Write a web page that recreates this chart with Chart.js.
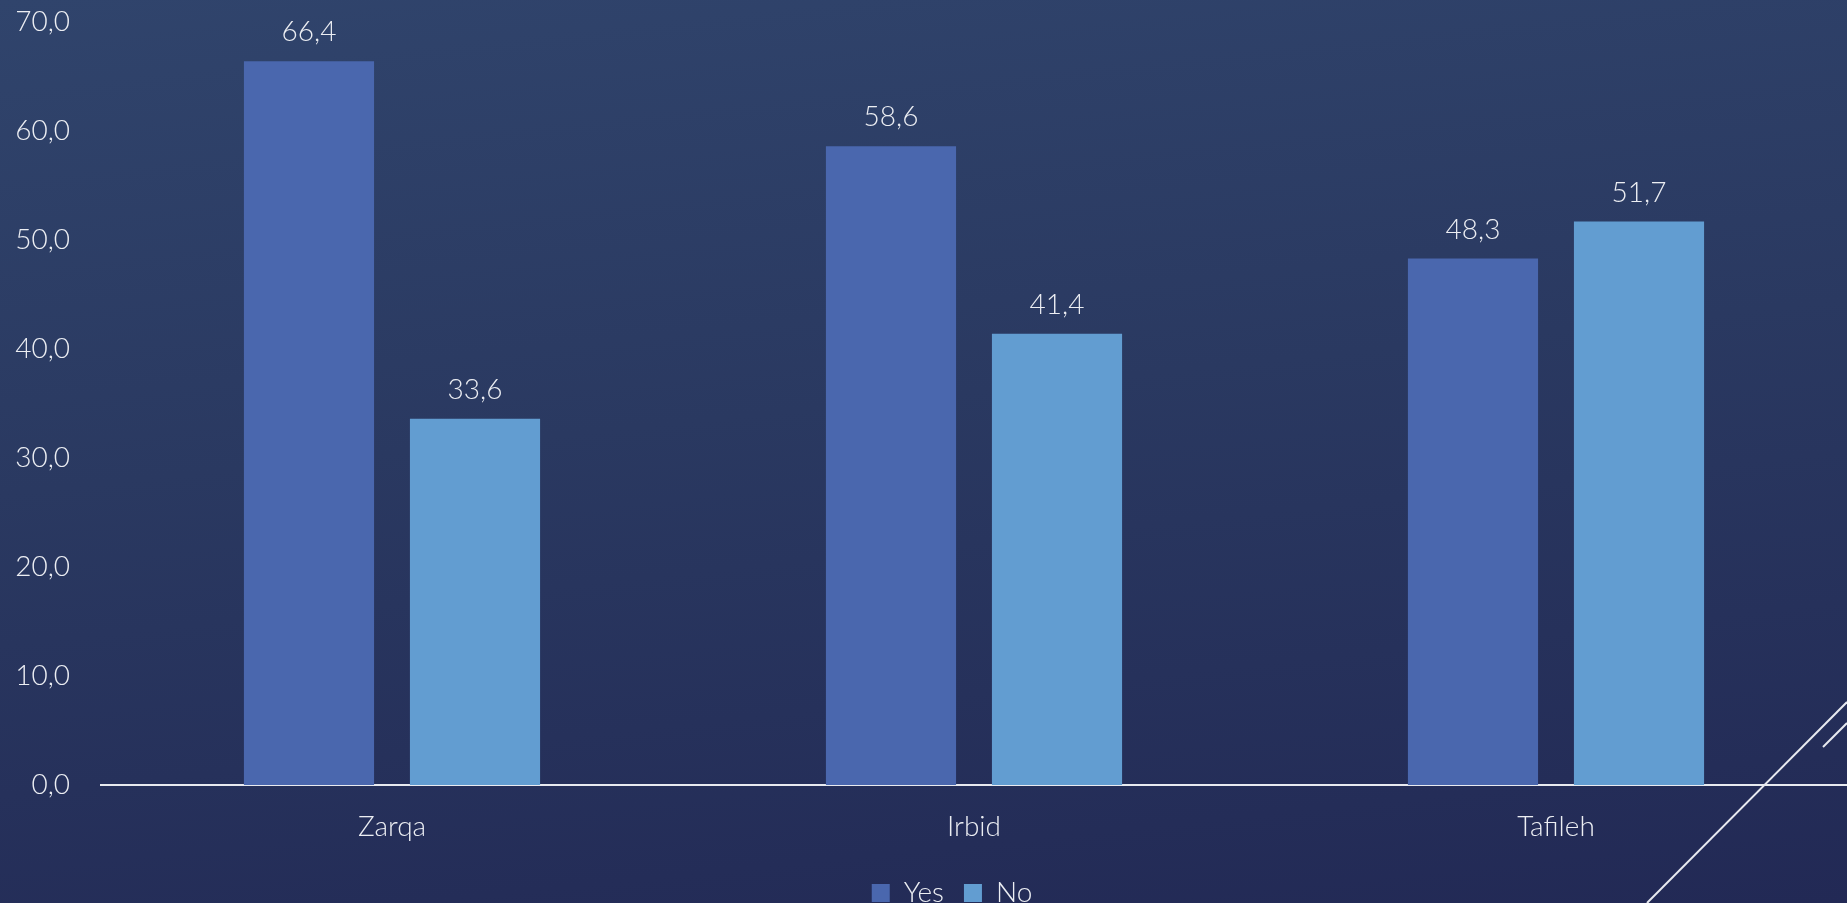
<!DOCTYPE html>
<html>
<head>
<meta charset="utf-8">
<script src="https://cdn.jsdelivr.net/npm/chart.js@4.4.1/dist/chart.umd.min.js"></script>
<style>
  html, body { margin: 0; padding: 0; width: 1847px; height: 903px; overflow: hidden; }
  body { background: linear-gradient(174deg, #30446c 0%, #2a3961 45%, #222955 100%); position: relative; }
  #wrap { position: absolute; left: 0; top: 0; width: 1847px; height: 903px; }
  #deco { position: absolute; left: 0; top: 0; width: 1847px; height: 903px; pointer-events: none; }
</style>
</head>
<body>
<div id="wrap"><canvas id="c" width="1847" height="903"></canvas></div>
<svg id="deco" width="1847" height="903">
  <line x1="1647" y1="903" x2="1847" y2="702" stroke="#e8eaf0" stroke-width="2"/>
  <line x1="1823" y1="747" x2="1847" y2="723" stroke="#e8eaf0" stroke-width="2"/>
</svg>
<script>
const categories = ["Zarqa", "Irbid", "Tafileh"];
const seriesNames = ["Yes", "No"];
const yesValues = [66.4, 58.6, 48.3];
const noValues = [33.6, 41.4, 51.7];
const yTicks = [0, 10, 20, 30, 40, 50, 60, 70];

const FONT = "Lato, 'Open Sans', sans-serif";
const TEXT = "#eceef3";
const fmt = v => Number(v).toFixed(1).replace('.', ',');

const valueLabels = {
  id: 'valueLabels',
  afterDatasetsDraw(chart) {
    const ctx = chart.ctx;
    ctx.save();
    ctx.font = "300 28px " + FONT;
    ctx.fillStyle = TEXT;
    ctx.textAlign = 'center';
    ctx.textBaseline = 'middle';
    chart.data.datasets.forEach((ds, i) => {
      const meta = chart.getDatasetMeta(i);
      meta.data.forEach((bar, j) => {
        ctx.fillText(fmt(ds.data[j]), bar.x, bar.y - 29);
      });
    });
    ctx.restore();
  }
};

const legendShift = {
  id: 'legendShift',
  afterLayout(chart) {
    if (chart.legend) { chart.legend.left += 23; chart.legend.right += 23; }
  }
};

new Chart(document.getElementById('c'), {
  type: 'bar',
  data: {
    labels: categories,
    datasets: [
      { label: seriesNames[0], data: yesValues, backgroundColor: '#4a67ae', borderWidth: 0,
        categoryPercentage: 0.5705, barPercentage: 0.784 },
      { label: seriesNames[1], data: noValues, backgroundColor: '#629dd1', borderWidth: 0,
        categoryPercentage: 0.5705, barPercentage: 0.784 }
    ]
  },
  options: {
    responsive: false,
    animation: false,
    layout: { padding: { left: 0, right: -11, top: 22, bottom: -14 } },
    plugins: {
      legend: {
        position: 'bottom',
        labels: {
          color: TEXT,
          font: { family: FONT, size: 28, weight: '300' },
          boxWidth: 18, boxHeight: 18, padding: 20
        }
      },
      tooltip: { enabled: false }
    },
    scales: {
      x: {
        z: 1,
        grid: { display: false, drawTicks: false },
        border: { display: true, color: '#e8eaf0', width: 2 },
        ticks: { color: TEXT, font: { family: FONT, size: 28, weight: '300' }, padding: 25 },
        afterFit(s) { s.height = 74; s.paddingRight = -11; s.paddingLeft = 0; }
      },
      y: {
        min: 0, max: 70,
        afterBuildTicks(s) { s.ticks = yTicks.map(v => ({ value: v })); },
        grid: { display: false, drawTicks: false },
        border: { display: false },
        ticks: { color: TEXT, font: { family: FONT, size: 28, weight: '300' }, padding: 31,
                 callback: v => fmt(v) },
        afterFit(s) { s.width = 101; s.paddingTop = 0; s.paddingBottom = 0; }
      }
    }
  },
  plugins: [valueLabels, legendShift]
});
</script>
</body>
</html>
